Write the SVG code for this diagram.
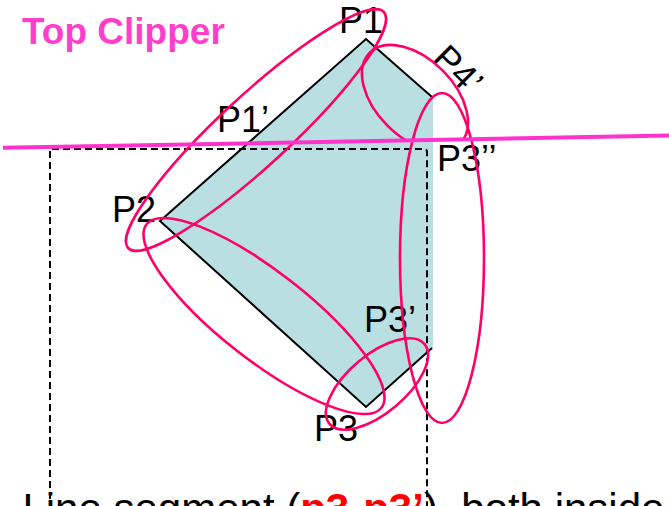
<svg xmlns="http://www.w3.org/2000/svg" width="669" height="506" viewBox="0 0 669 506">
  <style>
    .lbl { font-family: "Liberation Sans", Arial, sans-serif; font-size: 36px; fill: #000; }
    .edge { stroke: #000; stroke-width: 2; fill: none; }
    .ring { fill: none; stroke: #ff0066; stroke-width: 2.6; }
    .win { fill: none; stroke: #000; stroke-width: 2; stroke-dasharray: 7 4; }
  </style>
  <defs>
    <clipPath id="aboveLine">
      <polygon points="0,0 669,0 669,135.5 0,147.8"/>
    </clipPath>
  </defs>
  <rect width="669" height="506" fill="#ffffff"/>

  <g id="title">
    <text x="22" y="44" font-family="Liberation Sans, Arial, sans-serif" font-size="37" font-weight="bold" fill="#ff3fcc">Top Clipper</text>
  </g>

  <g id="polygon">
    <polygon points="366,39 432,97 433,97 433,348 366,407 160,221" fill="#b9dfe2"/>
    <polyline class="edge" points="432,97 366,39 160,221 366,407 432,348"/>
  </g>

  <g id="clip-window">
    <path class="win" d="M50,510 V149 H424 Q427,149 427,152 V510"/>
  </g>

  <g id="labels">
    <text class="lbl" x="339" y="33">P1</text>
    <text class="lbl" x="217" y="132">P1’</text>
    <text class="lbl" x="112" y="222">P2</text>
    <text class="lbl" x="364" y="332">P3’</text>
    <text class="lbl" x="314" y="441">P3</text>
    <text class="lbl" x="437" y="171">P3’’</text>
    <text class="lbl" transform="translate(431,60) rotate(45)">P4’</text>
  </g>

  <g id="connectors">
    <ellipse class="ring" cx="256" cy="130" rx="174" ry="35" transform="rotate(-42.7 256 130)"/>
    <ellipse class="ring" cx="264" cy="316" rx="149" ry="44" transform="rotate(38 264 316)"/>
    <ellipse class="ring" cx="377" cy="384" rx="62" ry="29" transform="rotate(-40 377 384)"/>
    <ellipse class="ring" cx="442" cy="258" rx="42" ry="165"/>
    <g clip-path="url(#aboveLine)">
      <ellipse class="ring" cx="415" cy="98" rx="64" ry="39" transform="rotate(45 415 98)"/>
    </g>
  </g>

  <g id="clip-line">
    <line x1="3" y1="147.8" x2="669" y2="135.5" stroke="#ff33cc" stroke-width="4"/>
  </g>

  <g id="caption">
    <text x="22.4" y="523" font-family="Liberation Sans, Arial, sans-serif" font-size="42" fill="#000">Line segment (<tspan fill="#ff0000" font-weight="bold">p3-p3’</tspan>), both inside</text>
  </g>
</svg>
